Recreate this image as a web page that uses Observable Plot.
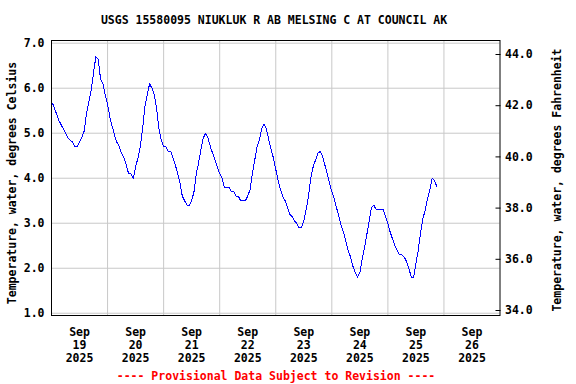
<!DOCTYPE html>
<html>
<head>
<meta charset="utf-8">
<script src="https://cdn.jsdelivr.net/npm/d3@7"></script>
<script src="https://cdn.jsdelivr.net/npm/@observablehq/plot@0.6"></script>
<style>
  html, body { margin: 0; padding: 0; background: #fff; }
  #wrap { position: relative; width: 576px; height: 384px; font-family: "DejaVu Sans Mono", monospace; font-weight: bold; font-size: 11.5px; }
  #wrap svg { position: absolute; left: 0; top: 0; }
  .lbl { position: absolute; white-space: nowrap; line-height: 14px; }
</style>
</head>
<body>
<div id="wrap"></div>
<script>
// ---- data (hourly readings from Sep 19 2025 00:00) ----
const startTime = "2025-09-19T00:00:00Z";
const tempC = [
  5.7,5.6,5.45,5.3,5.2,5.1,5.0,4.9,4.85,4.8,
  4.7,4.7,4.8,4.9,5.05,5.45,5.7,5.95,6.35,6.7,
  6.65,6.2,6.1,5.85,5.65,5.35,5.15,4.95,4.8,4.7,
  4.55,4.45,4.3,4.1,4.1,4.0,4.25,4.45,4.7,5.1,
  5.6,5.85,6.1,6.0,5.85,5.55,5.1,4.85,4.7,4.7,
  4.6,4.6,4.45,4.3,4.1,3.9,3.6,3.5,3.4,3.4,
  3.5,3.7,4.1,4.35,4.65,4.9,5.0,4.9,4.7,4.55,
  4.4,4.25,4.1,4.0,3.8,3.8,3.8,3.7,3.7,3.6,
  3.6,3.5,3.5,3.5,3.6,3.75,4.1,4.4,4.7,4.85,
  5.1,5.2,5.1,4.85,4.65,4.45,4.2,3.95,3.75,3.6,
  3.5,3.35,3.2,3.15,3.05,3.0,2.9,2.9,3.05,3.3,
  3.6,4.0,4.25,4.4,4.55,4.6,4.5,4.3,4.1,3.9,
  3.7,3.55,3.35,3.15,2.95,2.8,2.6,2.4,2.25,2.05,
  1.9,1.8,1.9,2.2,2.45,2.75,3.05,3.35,3.4,3.3,
  3.3,3.3,3.3,3.15,3.0,2.8,2.65,2.5,2.4,2.3,
  2.3,2.25,2.15,2.0,1.8,1.8,2.1,2.4,2.8,3.1,
  3.3,3.55,3.75,4.0,3.95,3.8
];
const celsiusTicks = [1, 2, 3, 4, 5, 6, 7];
const fahrenheitTicks = [34, 36, 38, 40, 42, 44];
const dayStarts = ["2025-09-19","2025-09-20","2025-09-21","2025-09-22","2025-09-23","2025-09-24","2025-09-25","2025-09-26","2025-09-27"];
const dayLabelNoons = ["2025-09-19T12:00Z","2025-09-20T12:00Z","2025-09-21T12:00Z","2025-09-22T12:00Z","2025-09-23T12:00Z","2025-09-24T12:00Z","2025-09-25T12:00Z","2025-09-26T12:00Z"];
const titleText = "USGS 15580095 NIUKLUK R AB MELSING C AT COUNCIL AK";
const leftLabel = "Temperature, water, degrees Celsius";
const rightLabel = "Temperature, water, degrees Fahrenheit";
const noteText = "---- Provisional Data Subject to Revision ----";

const t0 = Date.parse(startTime);
const data = tempC.map((v, i) => ({time: new Date(t0 + i * 3600e3), value: v}));
const gridDays = dayStarts.map(d => new Date(d + "T00:00Z"));
const labelDays = dayLabelNoons.map(d => new Date(d));
const fmt = d3.utcFormat("%b\n%d\n%Y");

const W = 576, H = 384;
const M = {top: 40, right: 76.5, bottom: 69, left: 51};
const font = {fontFamily: "DejaVu Sans Mono", fontSize: "11.5px", fontWeight: "bold", color: "black", background: "transparent"};

const main = Plot.plot({
  width: W, height: H,
  marginTop: M.top, marginRight: M.right, marginBottom: M.bottom, marginLeft: M.left,
  style: font,
  x: {type: "utc", domain: [gridDays[0], gridDays[gridDays.length - 1]]},
  y: {domain: [0.95, 7.06]},
  marks: [
    Plot.gridX(gridDays.slice(1, -1), {stroke: "#c8c8c8", strokeOpacity: 1}),
    Plot.gridY(celsiusTicks, {stroke: "#c8c8c8", strokeOpacity: 1}),
    Plot.line(data, {x: "time", y: "value", stroke: "#0000ff", strokeWidth: 1, shapeRendering: "crispEdges"}),
    Plot.frame({stroke: "black", strokeWidth: 1}),
    Plot.axisY(celsiusTicks, {anchor: "left", tickSize: 0, tickPadding: 7, tickFormat: d => d.toFixed(1), label: null}),
    Plot.axisX(labelDays, {anchor: "bottom", tickSize: 0, tickPadding: 11, tickFormat: fmt, lineHeight: 1.13, label: null})
  ]
});

const right = Plot.plot({
  width: W, height: H,
  marginTop: M.top, marginRight: M.right, marginBottom: M.bottom, marginLeft: M.left,
  style: font,
  y: {domain: [33.805, 44.547]},
  marks: [
    Plot.axisY(fahrenheitTicks, {anchor: "right", tickSize: 5, dx: -5, tickFormat: () => "", label: null, stroke: "black"}),
    Plot.axisY(fahrenheitTicks, {anchor: "right", tickSize: 0, tickPadding: 5, tickFormat: d => d.toFixed(1), label: null})
  ]
});

const wrap = document.getElementById("wrap");
wrap.appendChild(main);
wrap.appendChild(right);

function addLabel(text, cx, cy, rotate, color) {
  const el = document.createElement("div");
  el.className = "lbl";
  el.textContent = text;
  el.style.left = cx + "px";
  el.style.top = cy + "px";
  el.style.color = color || "black";
  el.style.transform = "translate(-50%,-50%)" + (rotate ? " rotate(-90deg)" : "");
  wrap.appendChild(el);
}
addLabel(titleText, 274, 19.5, false);
addLabel(leftLabel, 11.5, 183, true);
addLabel(rightLabel, 557, 180, true);
addLabel(noteText, 276, 376, false, "#ff0000");
</script>
</body>
</html>
